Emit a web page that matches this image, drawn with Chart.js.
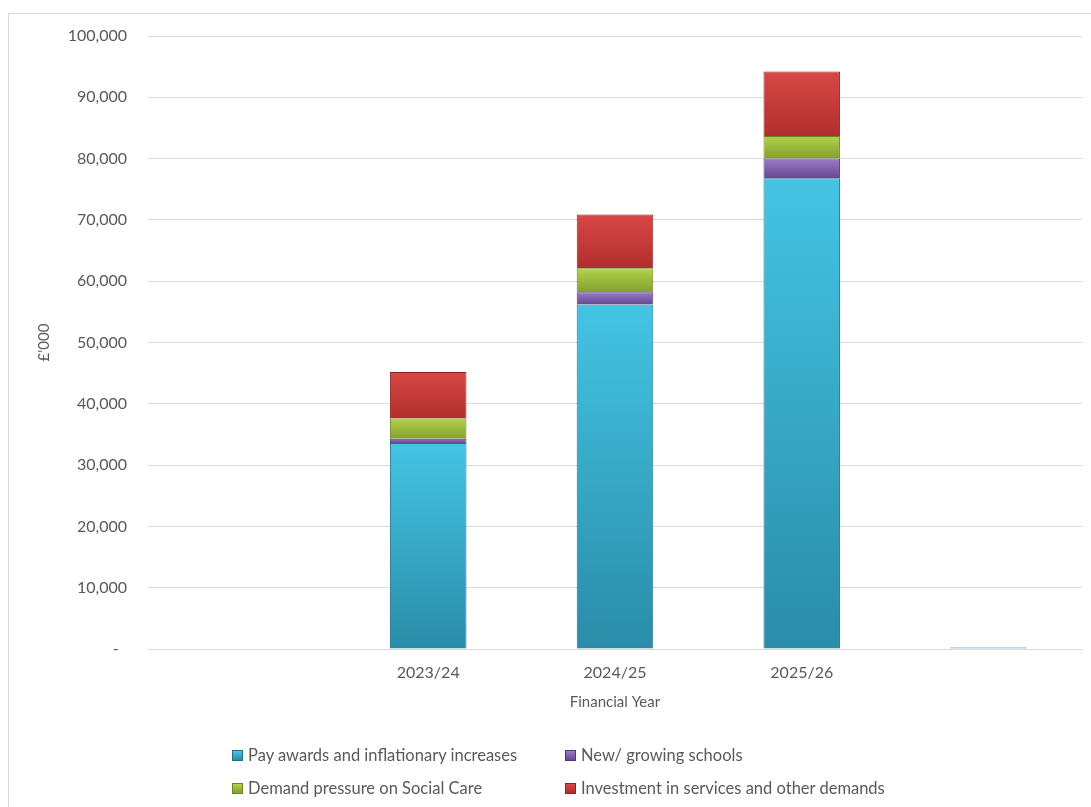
<!DOCTYPE html>
<html>
<head>
<meta charset="utf-8">
<script src="https://cdn.jsdelivr.net/npm/chart.js@4/dist/chart.umd.min.js"></script>
<style>
  html, body { margin: 0; padding: 0; background: #fff; }
  #wrap { position: relative; width: 1091px; height: 807px; overflow: hidden; }
  #frame { position: absolute; left: 8px; top: 13px; width: 1100px; height: 820px; border: 1px solid #d9d9d9; box-sizing: border-box; }
  canvas { position: absolute; left: 0; top: 0; }
  .leg { position: absolute; font-family: Lato, "Open Sans", sans-serif; font-size: 16.5px; color: #595959; white-space: nowrap; line-height: 20px; }
  .leg i { display: inline-block; width: 9px; height: 9px; margin-right: 5px; vertical-align: 0px; }
</style>
</head>
<body>
<div id="wrap">
  <div id="frame"></div>
  <canvas id="c" width="1091" height="807"></canvas>
  <div id="legend"></div>
</div>
<script>
const categories = ["", "2023/24", "2024/25", "2025/26", ""];
const seriesNames = ["Pay awards and inflationary increases", "New/ growing schools", "Demand pressure on Social Care", "Investment in services and other demands"];
const payAwards = [0, 33600, 56200, 76800, 300];
const newSchools = [0, 700, 2000, 3200, 0];
const socialCare = [0, 3300, 3900, 3700, 0];
const investment = [0, 7600, 8800, 10500, 0];
const yTicks = [0, 10000, 20000, 30000, 40000, 50000, 60000, 70000, 80000, 90000, 100000];

const palette = [
  { top: "#44c4e4", bottom: "#2a8ca8", border: "#1f7189" },
  { top: "#9a7cc6", bottom: "#654891", border: "#4f3775" },
  { top: "#b2d24a", bottom: "#849f31", border: "#6b8427" },
  { top: "#d84846", bottom: "#b02e2d", border: "#8c2222" }
];
const dataArrays = [payAwards, newSchools, socialCare, investment];

function grad(idx) {
  return function(ctx) {
    const chart = ctx.chart;
    const p = palette[idx];
    const ys = chart.scales && chart.scales.y;
    if (!ys || !chart.chartArea || ctx.dataIndex === undefined) return p.top;
    let base = 0;
    for (let k = 0; k < idx; k++) base += dataArrays[k][ctx.dataIndex];
    const top = base + dataArrays[idx][ctx.dataIndex];
    const y0 = ys.getPixelForValue(top), y1 = ys.getPixelForValue(base);
    if (!isFinite(y0) || !isFinite(y1) || y1 - y0 < 2) return p.top;
    const g = chart.ctx.createLinearGradient(0, y0, 0, y1);
    g.addColorStop(0, p.top);
    g.addColorStop(1, p.bottom);
    return g;
  };
}

const datasets = dataArrays.map((d, i) => ({
  label: seriesNames[i],
  data: d,
  backgroundColor: (i === 0)
    ? function(ctx) { if (ctx.dataIndex === 4) return "#9fd0dd"; return grad(0)(ctx); }
    : grad(i),
  borderColor: palette[i].border,
  borderWidth: (ctx) => (ctx.raw > 500 ? 1 : 0),
  barPercentage: 0.82,
  categoryPercentage: 0.5
}));

const font = { family: "Lato, 'Open Sans', sans-serif", size: 16 };

new Chart(document.getElementById("c"), {
  type: "bar",
  data: { labels: categories, datasets: datasets },
  options: {
    responsive: false,
    animation: false,
    layout: { padding: { left: 35, right: 9, top: 36, bottom: 96 } },
    plugins: { legend: { display: false }, tooltip: { enabled: false } },
    scales: {
      x: {
        stacked: true,
        grid: { display: false, drawTicks: false },
        border: { display: true, color: "#d9d9d9", width: 1 },
        ticks: { color: "#595959", font: font, padding: 14, maxRotation: 0, autoSkip: false },
        title: { display: true, text: "Financial Year", color: "#595959", font: { family: font.family, size: 15 }, padding: { top: 0, bottom: 0 } },
        afterFit: (s) => { s.height = 62; }
      },
      y: {
        stacked: true,
        min: 0, max: 100000,
        afterBuildTicks: (s) => { s.ticks = yTicks.map(v => ({ value: v })); },
        grid: { color: "#d9d9d9", lineWidth: 1, drawTicks: false },
        border: { display: false },
        ticks: {
          color: "#595959", font: font, padding: 21,
          callback: (v) => v === 0 ? "-  " : v.toLocaleString("en-GB")
        },
        title: { display: true, text: "£'000", color: "#595959", font: { family: font.family, size: 15 }, padding: { top: 0, bottom: 0 } },
        afterFit: (s) => { s.width = 148 - 35; }
      }
    }
  }
});

const legPos = [[232, 745], [565, 745], [232, 778], [565, 778]];
const legEl = document.getElementById("legend");
seriesNames.forEach((n, i) => {
  const d = document.createElement("div");
  d.className = "leg";
  d.style.left = legPos[i][0] + "px";
  d.style.top = legPos[i][1] + "px";
  const sw = document.createElement("i");
  sw.style.background = "linear-gradient(" + palette[i].top + "," + palette[i].bottom + ")";
  sw.style.border = "0.5px solid " + palette[i].border;
  d.appendChild(sw);
  d.appendChild(document.createTextNode(n));
  legEl.appendChild(d);
});
</script>
</body>
</html>
